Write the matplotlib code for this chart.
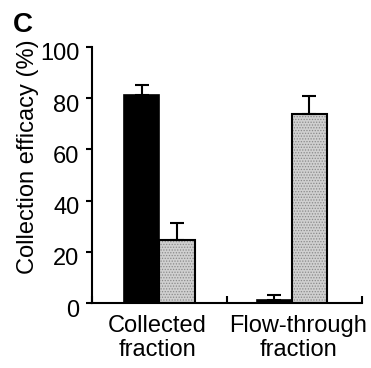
import numpy as np
import matplotlib
matplotlib.use("Agg")
from matplotlib import pyplot as plt
from matplotlib import transforms

plt.rcParams['font.family'] = ['Liberation Sans', 'DejaVu Sans']
plt.rcParams['hatch.linewidth'] = 0.6

# data
groups = ["Collected\nfraction", "Flow-through\nfraction"]
black_vals = [81.3, 1.2]
black_err = [3.9, 2.0]
grey_vals = [24.8, 74.0]
grey_err = [6.5, 6.8]

fig = plt.figure(figsize=(3.71, 3.68), dpi=100)
ax = fig.add_axes([0.248, 0.1766, 0.727, 0.6957])

x = np.array([0.5, 1.48])
w = 0.26

ax.bar(x - w / 2, black_vals, w, color="black", edgecolor="black", linewidth=1.2,
       yerr=[np.zeros(2), black_err], capsize=5,
       error_kw=dict(elinewidth=1.5, capthick=1.5, ecolor="black"))
# stippled grey fill, then outline
ax.bar(x + w / 2, grey_vals, w, color="#d0d0d0", edgecolor="#8a8a8a", linewidth=0,
       hatch="......")
ax.bar(x + w / 2, grey_vals, w, color="none", edgecolor="black", linewidth=1.5,
       yerr=[np.zeros(2), grey_err], capsize=5,
       error_kw=dict(elinewidth=1.5, capthick=1.5, ecolor="black"))

ax.set_xlim(0, 2)
ax.set_ylim(0, 100)
ax.set_yticks(range(0, 101, 20))
ax.set_xticks([0, 1, 2])
ax.set_xticklabels([])
ax.tick_params(axis="x", direction="in", length=5, width=1.5)
ax.tick_params(axis="y", direction="out", length=4, width=1.5, labelsize=17, pad=5)

# labels in the original sit a few pixels below their ticks
shift = transforms.ScaledTranslation(0, -5 / 100, fig.dpi_scale_trans)
for lab in ax.get_yticklabels():
    lab.set_transform(lab.get_transform() + shift)

for xi, lab in zip([0.485, 1.53], groups):
    ax.text(xi, -4.5, lab, ha="center", va="top", fontsize=17, linespacing=1.12)

ax.spines["top"].set_visible(False)
ax.spines["right"].set_visible(False)
ax.spines["left"].set_linewidth(1.5)
ax.spines["bottom"].set_linewidth(1.5)
ax.set_ylabel("Collection efficacy (%)", fontsize=17, va="center")
ax.yaxis.set_label_coords(-0.239, 0.57)

fig.text(0.035, 0.968, "C", fontsize=20, fontweight="bold", ha="left", va="top")

fig.savefig("out.png", dpi=100)
